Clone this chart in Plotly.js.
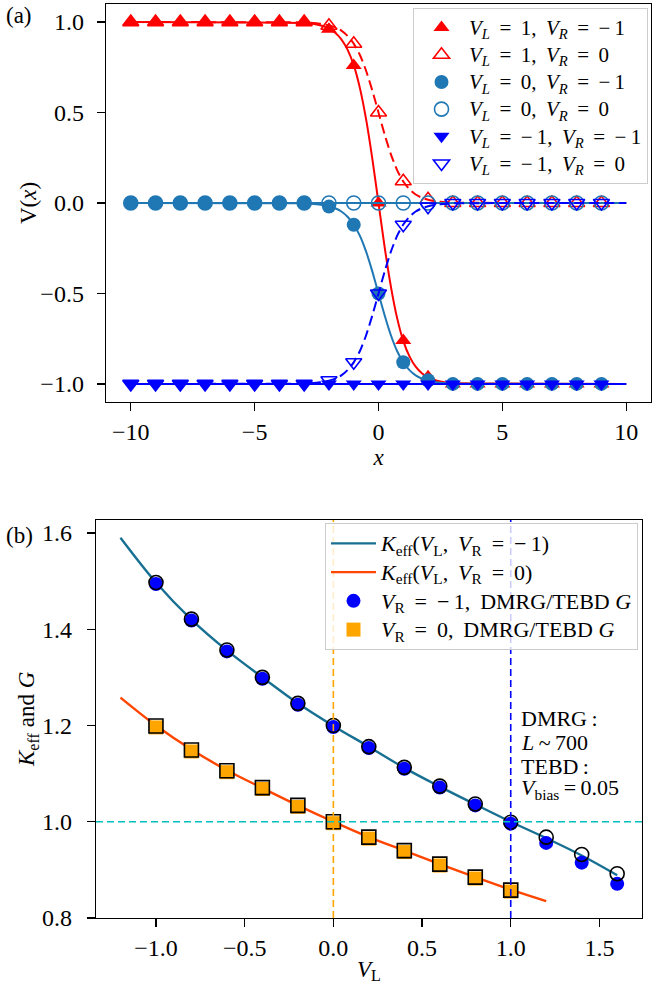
<!DOCTYPE html>
<html>
<head>
<meta charset="utf-8">
<script src="https://cdn.plot.ly/plotly-3.0.1.min.js"></script>
<style>html,body{margin:0;padding:0;background:#fff;}#chart{width:667px;height:988px;}</style>
</head>
<body>
<div id="chart"></div>
<script>
// ---------- Panel (a) data ----------
const xPts = [-10,-9,-8,-7,-6,-5,-4,-3,-2,-1,0,1,2,3,4,5,6,7,8,9];
const vL1vRm1 = [1,1,1,1,1,1,1,1,0.96,0.76,0,-0.76,-0.96,-1,-1,-1,-1,-1,-1,-1];
const vL1vR0 = [1,1,1,1,1,1,1,1,0.98,0.88,0.5,0.12,0.02,0,0,0,0,0,0,0];
const vL0vRm1 = [0,0,0,0,0,0,0,0,-0.02,-0.12,-0.5,-0.88,-0.98,-1,-1,-1,-1,-1,-1,-1];
const vL0vR0 = [0,0,0,0,0,0,0,0,0,0,0,0,0,0,0,0,0,0,0,0];
const vLm1vRm1 = [-1,-1,-1,-1,-1,-1,-1,-1,-1,-1,-1,-1,-1,-1,-1,-1,-1,-1,-1,-1];
const vLm1vR0 = [-1,-1,-1,-1,-1,-1,-1,-1,-0.98,-0.88,-0.5,-0.12,-0.02,0,0,0,0,0,0,0];

const xLine = [-10,-3,-2.75,-2.5,-2.25,-2,-1.75,-1.5,-1.25,-1,-0.75,-0.5,-0.25,0,0.25,0.5,0.75,1,1.25,1.5,1.75,2,2.25,2.5,2.75,3,10];
const lineL1Rm1 = [1,0.995,0.992,0.987,0.978,0.964,0.941,0.905,0.848,0.762,0.635,0.462,0.245,0,-0.245,-0.462,-0.635,-0.762,-0.848,-0.905,-0.941,-0.964,-0.978,-0.987,-0.992,-0.995,-1];
const lineL1R0 = [1,0.998,0.996,0.993,0.989,0.982,0.971,0.953,0.924,0.881,0.818,0.731,0.622,0.5,0.378,0.269,0.182,0.119,0.076,0.047,0.029,0.018,0.011,0.007,0.004,0.002,0];
const lineL0Rm1 = [0,-0.002,-0.004,-0.007,-0.011,-0.018,-0.029,-0.047,-0.076,-0.119,-0.182,-0.269,-0.378,-0.5,-0.622,-0.731,-0.818,-0.881,-0.924,-0.953,-0.971,-0.982,-0.989,-0.993,-0.996,-0.998,-1];
const lineLm1R0 = [-1,-0.998,-0.996,-0.993,-0.989,-0.982,-0.971,-0.953,-0.924,-0.881,-0.818,-0.731,-0.622,-0.5,-0.378,-0.269,-0.182,-0.119,-0.076,-0.047,-0.029,-0.018,-0.011,-0.007,-0.004,-0.002,0];
const xFlat = [-10,10];
const lineL0R0 = [0,0];
const lineLm1Rm1 = [-1,-1];

const aXTickVals = [-10,-5,0,5,10];
const aXTickText = ['\u221210','\u22125','0','5','10'];
const aYTickVals = [-1,-0.5,0,0.5,1];
const aYTickText = ['\u22121.0','\u22120.5','0.0','0.5','1.0'];

// ---------- Panel (b) data ----------
const vLCurve = [-1.2,-1.0,-0.8,-0.6,-0.4,-0.2,0,0.2,0.4,0.6,0.8,1.0,1.2,1.4,1.6];
const kEffRm1 = [1.59,1.497,1.42,1.356,1.300,1.246,1.199,1.156,1.112,1.073,1.036,1.000,0.966,0.930,0.889];
const vLCurve0 = [-1.2,-1.0,-0.8,-0.6,-0.4,-0.2,0,0.2,0.4,0.6,0.8,1.0,1.2];
const kEffR0 = [1.258,1.200,1.150,1.107,1.070,1.034,1.000,0.968,0.940,0.912,0.885,0.859,0.835];

const vLPtsRm1 = [-1.0,-0.8,-0.6,-0.4,-0.2,0,0.2,0.4,0.6,0.8,1.0,1.2,1.4,1.6];
const gTebdRm1 = [1.494,1.418,1.354,1.297,1.243,1.197,1.153,1.110,1.071,1.034,0.996,0.956,0.915,0.871];
const gDmrgRm1 = [1.497,1.421,1.357,1.300,1.246,1.200,1.156,1.113,1.074,1.037,0.999,0.968,0.932,0.892];
const vLPtsR0 = [-1.0,-0.8,-0.6,-0.4,-0.2,0,0.2,0.4,0.6,0.8,1.0];
const gTebdR0 = [1.196,1.146,1.103,1.068,1.031,0.997,0.965,0.937,0.909,0.882,0.855];
const gDmrgR0 = [1.199,1.149,1.106,1.071,1.034,1.000,0.968,0.940,0.912,0.885,0.858];

const bXTickVals = [-1.0,-0.5,0.0,0.5,1.0,1.5];
const bXTickText = ['\u22121.0','\u22120.5','0.0','0.5','1.0','1.5'];
const bYTickVals = [0.8,1.0,1.2,1.4,1.6];
const bYTickText = ['0.8','1.0','1.2','1.4','1.6'];

const EQ = '\u2009 = \u2009', M1 = '\u2212\u20091';
const noteLines = ['DMRG\u2009:', '<i>L</i>\u2009~\u2009700', 'TEBD\u2009:', '<i>V</i><sub>bias</sub>\u2009=\u20090.05'];
const yTitleA = 'V(<i>x</i>)';
const yTitleB = '<i>K</i><sub>eff</sub> and <i>G</i>';

// ---------- style ----------
const FONT = 'Liberation Serif, Times New Roman, serif';
const RED = '#ff0000', STEEL = '#1f77b4', BLUE = '#0000ff';
const TEAL = '#176f92', ORED = '#ff4500', ORANGE = '#ffa500';
const DASH = '10px,5px';
const TICKSZ = 24, TITLESZ = 23, NOTESZ = 22;
const LEG_ROW = 18.6, LEG_TXT = 21, LEG2_ROW = 19.8, LEG2_TXT = 22;
const big = (s, sz) => '<span style="font-size:' + sz + 'px">' + s + '</span>';

function line(x, y, color, dash) {
  return {x: x, y: y, type: 'scatter', mode: 'lines', showlegend: false, hoverinfo: 'skip',
    line: {color: color, width: 2, dash: dash || 'solid', shape: 'spline', smoothing: 0.6},
    xaxis: 'x', yaxis: 'y'};
}
function pts(x, y, name, symbol, color, filled) {
  return {x: x, y: y, type: 'scatter', mode: 'markers', name: big(name, LEG_TXT), legend: 'legend',
    marker: {symbol: symbol, size: 14, color: color,
      line: {color: color, width: filled ? 0 : 1.6}},
    xaxis: 'x', yaxis: 'y'};
}

const LV = (l, r) => '<i>V<sub>L</sub></i>' + EQ + l + ',\u2009 <i>V<sub>R</sub></i>' + EQ + r;

const traces = [
  line(xLine, lineL1Rm1, RED, 'solid'),
  pts(xPts, vL1vRm1, LV('1', M1), 'triangle-up', RED, true),
  line(xLine, lineL1R0, RED, DASH),
  pts(xPts, vL1vR0, LV('1', '0'), 'triangle-up-open', RED, false),
  line(xLine, lineL0Rm1, STEEL, 'solid'),
  pts(xPts, vL0vRm1, LV('0', M1), 'circle', STEEL, true),
  line(xFlat, lineL0R0, STEEL, 'solid'),
  pts(xPts, vL0vR0, LV('0', '0'), 'circle-open', STEEL, false),
  line(xFlat, lineLm1Rm1, BLUE, 'solid'),
  pts(xPts, vLm1vRm1, LV(M1, M1), 'triangle-down', BLUE, true),
  line(xLine, lineLm1R0, BLUE, DASH),
  pts(xPts, vLm1vR0, LV(M1, '0'), 'triangle-down-open', BLUE, false),

  // panel (b)
  {x: vLCurve, y: kEffRm1, type: 'scatter', mode: 'lines', legend: 'legend2',
   name: big('<i>K</i><sub>eff</sub>(<i>V</i><sub>L</sub>,\u2009 <i>V</i><sub>R</sub>' + EQ + M1 + ')', LEG2_TXT),
   line: {color: TEAL, width: 2.4, shape: 'spline'}, xaxis: 'x2', yaxis: 'y2'},
  {x: vLCurve0, y: kEffR0, type: 'scatter', mode: 'lines', legend: 'legend2',
   name: big('<i>K</i><sub>eff</sub>(<i>V</i><sub>L</sub>,\u2009 <i>V</i><sub>R</sub>' + EQ + '0)', LEG2_TXT),
   line: {color: ORED, width: 2.4, shape: 'spline'}, xaxis: 'x2', yaxis: 'y2'},
  {x: vLPtsRm1, y: gTebdRm1, type: 'scatter', mode: 'markers', legend: 'legend2',
   name: big('<i>V</i><sub>R</sub>' + EQ + M1 + ',\u2009 DMRG/TEBD <i>G</i>', LEG2_TXT),
   marker: {symbol: 'circle', size: 14, color: BLUE}, xaxis: 'x2', yaxis: 'y2'},
  {x: vLPtsRm1, y: gDmrgRm1, type: 'scatter', mode: 'markers', showlegend: false,
   marker: {symbol: 'circle-open', size: 14, color: '#000', line: {color: '#000', width: 1.6}}, xaxis: 'x2', yaxis: 'y2'},
  {x: vLPtsR0, y: gTebdR0, type: 'scatter', mode: 'markers', legend: 'legend2',
   name: big('<i>V</i><sub>R</sub>' + EQ + '0,\u2009 DMRG/TEBD <i>G</i>', LEG2_TXT),
   marker: {symbol: 'square', size: 14, color: ORANGE}, xaxis: 'x2', yaxis: 'y2'},
  {x: vLPtsR0, y: gDmrgR0, type: 'scatter', mode: 'markers', showlegend: false,
   marker: {symbol: 'square-open', size: 14, color: '#000', line: {color: '#000', width: 1.6}}, xaxis: 'x2', yaxis: 'y2'}
];

const W = 667, H = 988;
const px = v => v / W, py = v => 1 - v / H;

const axisCommon = {
  showline: true, mirror: true, linecolor: '#000', linewidth: 1.3,
  ticks: 'outside', ticklen: 8, tickwidth: 1.3, tickcolor: '#000',
  showgrid: false, zeroline: false, automargin: false,
  tickfont: {family: FONT, size: TICKSZ, color: '#000'}
};

const noteYs = [718, 742, 766, 789];
const notes = noteLines.map((t, i) => ({
  text: t, xref: 'paper', yref: 'paper', x: px(519), y: py(noteYs[i]),
  xanchor: 'left', yanchor: 'middle', align: 'left', showarrow: false,
  font: {family: FONT, size: NOTESZ, color: '#000'}
}));

const layout = {
  width: W, height: H,
  margin: {l: 0, r: 0, t: 0, b: 0},
  paper_bgcolor: '#fff', plot_bgcolor: '#fff',
  font: {family: FONT, size: TITLESZ, color: '#000'},
  xaxis: Object.assign({}, axisCommon, {
    domain: [px(106), px(651)], range: [-11, 11], anchor: 'y',
    tickvals: aXTickVals, ticktext: aXTickText,
    title: {text: '<i>x</i>', font: {family: FONT, size: TITLESZ}, standoff: 0}
  }),
  yaxis: Object.assign({}, axisCommon, {
    domain: [py(402), py(4)], range: [-1.1, 1.1], anchor: 'x', ticklabelstandoff: 8,
    tickvals: aYTickVals, ticktext: aYTickText
  }),
  xaxis2: Object.assign({}, axisCommon, {
    domain: [px(96), px(642)], range: [-1.338, 1.74], anchor: 'y2',
    tickvals: bXTickVals, ticktext: bXTickText,
    title: {text: '<i>V</i><sub>L</sub>', font: {family: FONT, size: TITLESZ}, standoff: 0}
  }),
  yaxis2: Object.assign({}, axisCommon, {
    domain: [py(918), py(520)], range: [0.8, 1.627], anchor: 'x2', ticklabelstandoff: 10,
    tickvals: bYTickVals, ticktext: bYTickText
  }),
  legend: {
    x: px(648), y: py(8), xanchor: 'right', yanchor: 'top', itemwidth: 45,
    bgcolor: 'rgba(255,255,255,0.8)', bordercolor: '#cccccc', borderwidth: 1,
    font: {family: FONT, size: LEG_ROW, color: '#000'}, tracegroupgap: 0, itemsizing: 'trace'
  },
  legend2: {
    x: px(638), y: py(523), xanchor: 'right', yanchor: 'top', itemwidth: 45,
    bgcolor: 'rgba(255,255,255,0.8)', bordercolor: '#cccccc', borderwidth: 1,
    font: {family: FONT, size: LEG2_ROW, color: '#000'}, tracegroupgap: 0, itemsizing: 'trace'
  },
  shapes: [
    {type: 'line', xref: 'x2', yref: 'y2 domain', x0: 0, x1: 0, y0: 0, y1: 1, layer: 'above',
     line: {color: ORANGE, width: 1.6, dash: '7px,4px'}},
    {type: 'line', xref: 'x2', yref: 'y2 domain', x0: 1, x1: 1, y0: 0, y1: 1, layer: 'above',
     line: {color: BLUE, width: 1.6, dash: '7px,4px'}},
    {type: 'line', xref: 'x2 domain', yref: 'y2', x0: 0, x1: 1, y0: 1, y1: 1, layer: 'above',
     line: {color: '#00bfbf', width: 1.6, dash: '7px,4px'}}
  ],
  annotations: [
    {text: '(a)', xref: 'paper', yref: 'paper', x: px(4), y: py(15), xanchor: 'left', yanchor: 'middle',
     showarrow: false, font: {family: FONT, size: TITLESZ}},
    {text: '(b)', xref: 'paper', yref: 'paper', x: px(4), y: py(535), xanchor: 'left', yanchor: 'middle',
     showarrow: false, font: {family: FONT, size: TITLESZ}},
    {text: yTitleA, xref: 'paper', yref: 'y domain', x: px(28), y: 0.5, xanchor: 'center', yanchor: 'middle',
     textangle: -90, showarrow: false, font: {family: FONT, size: TITLESZ}},
    {text: yTitleB, xref: 'paper', yref: 'y2 domain', x: px(28), y: 0.5, xanchor: 'center', yanchor: 'middle',
     textangle: -90, showarrow: false, font: {family: FONT, size: TITLESZ}}
  ].concat(notes)
};

Plotly.newPlot('chart', traces, layout, {displayModeBar: false, staticPlot: true});
</script>
</body>
</html>
